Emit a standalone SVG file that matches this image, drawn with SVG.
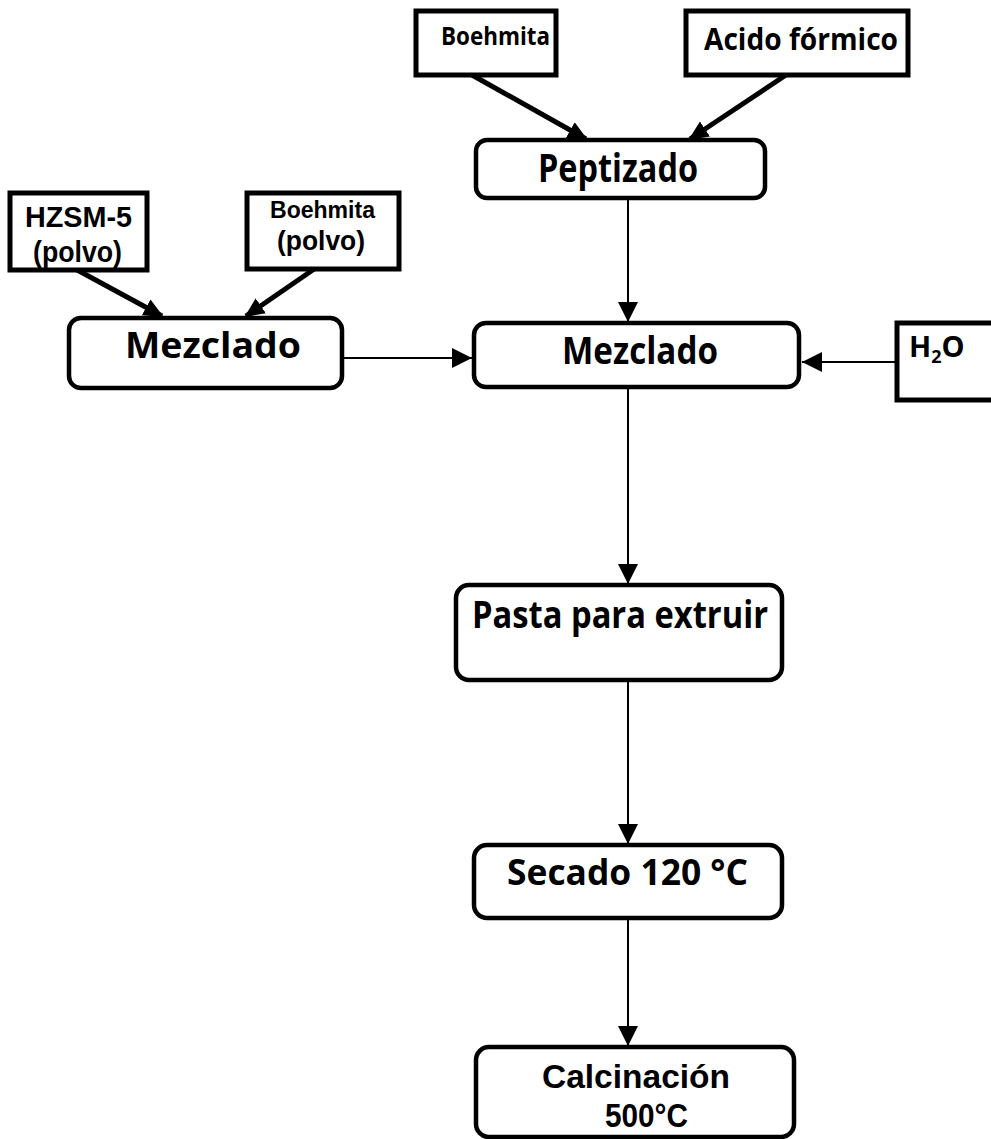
<svg xmlns="http://www.w3.org/2000/svg" width="991" height="1139" viewBox="0 0 991 1139">
  <defs>
    <style>
      .inp { fill: #fff; stroke: #000; stroke-width: 5; }
      .proc { fill: #fff; stroke: #000; stroke-width: 4.5; }
      .t { font-family: "Open Sans", "Liberation Sans", sans-serif; font-weight: 700; fill: #000; }
      .t2 { font-family: "Liberation Sans", Arial, sans-serif; font-weight: 700; fill: #000; }
      .thin { stroke: #000; stroke-width: 2; fill: none; marker-end: url(#headThin); }
      .thick { stroke: #000; stroke-width: 5; fill: none; marker-end: url(#headThick); }
    </style>
    <marker id="headThin" markerUnits="userSpaceOnUse" viewBox="0 0 20 20" refX="20" refY="10" markerWidth="20" markerHeight="20" orient="auto">
      <path d="M0,0 L20,10 L0,20 Z" fill="#000"/>
    </marker>
    <marker id="headThick" markerUnits="userSpaceOnUse" viewBox="0 0 20 20" refX="18" refY="10" markerWidth="20" markerHeight="20" orient="auto">
      <path d="M0,1 L20,10 L0,19 Z" fill="#000"/>
    </marker>
  </defs>
  <rect width="991" height="1139" fill="#fff"/>

  <!-- connectors -->
  <g id="connectors">
    <line class="thick" x1="472" y1="75" x2="586" y2="139"/>
    <line class="thick" x1="786" y1="75" x2="690" y2="139"/>
    <line class="thick" x1="68" y1="265" x2="162" y2="316"/>
    <line class="thick" x1="320" y1="265" x2="246" y2="316"/>
    <line class="thin" x1="628" y1="198" x2="628" y2="322"/>
    <line class="thin" x1="342" y1="358" x2="472" y2="358"/>
    <line class="thin" x1="896" y1="362" x2="802" y2="362"/>
    <line class="thin" x1="628" y1="388" x2="628" y2="584"/>
    <line class="thin" x1="628" y1="681" x2="628" y2="844"/>
    <line class="thin" x1="628" y1="919" x2="628" y2="1046"/>
  </g>

  <!-- raw material inputs -->
  <g id="boehmita-top">
    <rect class="inp" x="416" y="11" width="140" height="64"/>
    <text class="t" x="441" y="45" font-size="25" textLength="109" lengthAdjust="spacingAndGlyphs">Boehmita</text>
  </g>
  <g id="acido-formico">
    <rect class="inp" x="686" y="11" width="222" height="64"/>
    <text class="t" x="704" y="50" font-size="31" textLength="194" lengthAdjust="spacingAndGlyphs">Acido fórmico</text>
  </g>
  <g id="hzsm5">
    <rect class="inp" x="10" y="193" width="137" height="77"/>
    <text class="t2" x="25" y="227" font-size="30" textLength="107" lengthAdjust="spacingAndGlyphs">HZSM-5</text>
    <text class="t2" x="33" y="262" font-size="29" textLength="89" lengthAdjust="spacingAndGlyphs">(polvo)</text>
  </g>
  <g id="boehmita-polvo">
    <rect class="inp" x="247" y="193" width="152" height="76"/>
    <text class="t2" x="270" y="218" font-size="24" textLength="105" lengthAdjust="spacingAndGlyphs">Boehmita</text>
    <text class="t2" x="277" y="250" font-size="28" textLength="88" lengthAdjust="spacingAndGlyphs">(polvo)</text>
  </g>
  <g id="h2o">
    <rect class="inp" x="897" y="323" width="110" height="77"/>
    <text class="t" x="909" y="357" font-size="29">H<tspan font-size="18" dy="6">2</tspan><tspan dy="-6">O</tspan></text>
  </g>

  <!-- process steps -->
  <g id="peptizado">
    <rect class="proc" x="476" y="140" width="289" height="58" rx="11"/>
    <text class="t" x="538" y="182" font-size="40" textLength="160" lengthAdjust="spacingAndGlyphs">Peptizado</text>
  </g>
  <g id="mezclado-polvos">
    <rect class="proc" x="69" y="318" width="273" height="70" rx="12"/>
    <text class="t" x="125" y="358" font-size="36" textLength="176" lengthAdjust="spacingAndGlyphs">Mezclado</text>
  </g>
  <g id="mezclado">
    <rect class="proc" x="474" y="323" width="325" height="64" rx="12"/>
    <text class="t" x="562" y="364" font-size="37" textLength="156" lengthAdjust="spacingAndGlyphs">Mezclado</text>
  </g>
  <g id="pasta">
    <rect class="proc" x="456" y="585" width="326" height="95" rx="13"/>
    <text class="t" x="472" y="628" font-size="37" textLength="296" lengthAdjust="spacingAndGlyphs">Pasta para extruir</text>
  </g>
  <g id="secado">
    <rect class="proc" x="474" y="845" width="308" height="73" rx="13"/>
    <text class="t" x="507" y="885" font-size="35" textLength="241" lengthAdjust="spacingAndGlyphs">Secado 120 °C</text>
  </g>
  <g id="calcinacion">
    <rect class="proc" x="476" y="1047" width="318" height="90" rx="13"/>
    <text class="t2" x="542" y="1088" font-size="33" textLength="188" lengthAdjust="spacingAndGlyphs">Calcinación</text>
    <text class="t2" x="605" y="1127" font-size="33" textLength="83" lengthAdjust="spacingAndGlyphs">500°C</text>
  </g>
</svg>
